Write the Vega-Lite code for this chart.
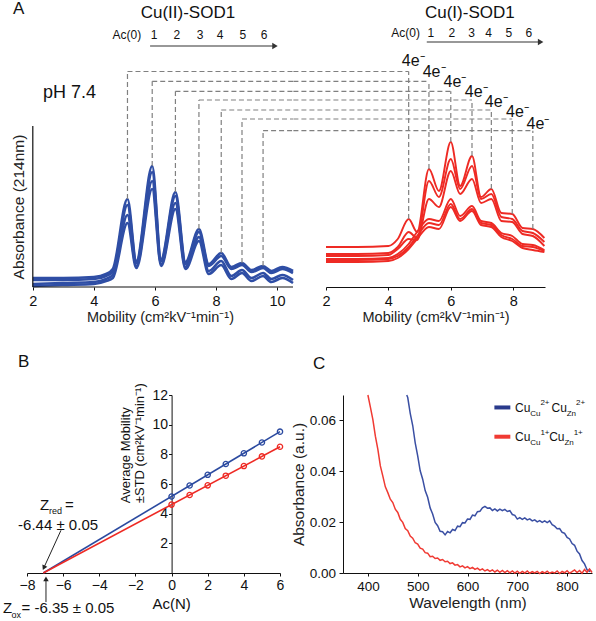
{
"$schema": "https://vega.github.io/schema/vega-lite/v6.json",
"background": "white",
"padding": {"left": 2, "top": 0, "right": 0, "bottom": 0},
"config": {
  "font": "Liberation Sans",
  "view": {"stroke": null},
  "axis": {"labelFont": "Liberation Sans", "titleFont": "Liberation Sans", "labelColor": "#111", "titleColor": "#222", "domainColor": "#111", "tickColor": "#111", "grid": false, "titleFontWeight": "normal", "labelFlush": false, "labelOverlap": false},
  "text": {"font": "Liberation Sans", "color": "#111"}
},
"datasets": {
  "blue": [
    {"t":"b1","x":2,"y":0.09},{"t":"b1","x":3,"y":0.09},{"t":"b1","x":4,"y":0.10},{"t":"b1","x":4.4,"y":0.13},{"t":"b1","x":4.62,"y":0.18},{"t":"b1","x":5.1,"y":0.88},{"t":"b1","x":5.39,"y":0.26},{"t":"b1","x":5.91,"y":1.21},{"t":"b1","x":6.2,"y":0.28},{"t":"b1","x":6.67,"y":0.95},{"t":"b1","x":7,"y":0.25},{"t":"b1","x":7.44,"y":0.58},{"t":"b1","x":7.76,"y":0.23},{"t":"b1","x":8.17,"y":0.34},{"t":"b1","x":8.5,"y":0.20},{"t":"b1","x":8.85,"y":0.24},{"t":"b1","x":9.16,"y":0.17},{"t":"b1","x":9.54,"y":0.21},{"t":"b1","x":9.81,"y":0.16},{"t":"b1","x":10.17,"y":0.20},{"t":"b1","x":10.52,"y":0.16},
    {"t":"b2","x":2,"y":0.07},{"t":"b2","x":3,"y":0.07},{"t":"b2","x":4,"y":0.08},{"t":"b2","x":4.4,"y":0.11},{"t":"b2","x":4.62,"y":0.15},{"t":"b2","x":5.1,"y":0.82},{"t":"b2","x":5.39,"y":0.24},{"t":"b2","x":5.91,"y":1.15},{"t":"b2","x":6.2,"y":0.26},{"t":"b2","x":6.67,"y":0.91},{"t":"b2","x":7,"y":0.23},{"t":"b2","x":7.44,"y":0.55},{"t":"b2","x":7.76,"y":0.21},{"t":"b2","x":8.17,"y":0.31},{"t":"b2","x":8.5,"y":0.18},{"t":"b2","x":8.85,"y":0.22},{"t":"b2","x":9.16,"y":0.15},{"t":"b2","x":9.54,"y":0.19},{"t":"b2","x":9.81,"y":0.14},{"t":"b2","x":10.17,"y":0.18},{"t":"b2","x":10.52,"y":0.14},
    {"t":"b3","x":2,"y":0.03},{"t":"b3","x":3,"y":0.04},{"t":"b3","x":4,"y":0.05},{"t":"b3","x":4.4,"y":0.08},{"t":"b3","x":4.62,"y":0.12},{"t":"b3","x":5.1,"y":0.72},{"t":"b3","x":5.39,"y":0.21},{"t":"b3","x":5.91,"y":1.06},{"t":"b3","x":6.2,"y":0.23},{"t":"b3","x":6.67,"y":0.84},{"t":"b3","x":7,"y":0.20},{"t":"b3","x":7.44,"y":0.50},{"t":"b3","x":7.76,"y":0.16},{"t":"b3","x":8.17,"y":0.26},{"t":"b3","x":8.5,"y":0.11},{"t":"b3","x":8.85,"y":0.17},{"t":"b3","x":9.16,"y":0.09},{"t":"b3","x":9.54,"y":0.14},{"t":"b3","x":9.81,"y":0.08},{"t":"b3","x":10.17,"y":0.12},{"t":"b3","x":10.52,"y":0.07},
    {"t":"b4","x":2,"y":0.01},{"t":"b4","x":3,"y":0.02},{"t":"b4","x":4,"y":0.03},{"t":"b4","x":4.4,"y":0.06},{"t":"b4","x":4.62,"y":0.09},{"t":"b4","x":5.1,"y":0.64},{"t":"b4","x":5.39,"y":0.19},{"t":"b4","x":5.91,"y":0.98},{"t":"b4","x":6.2,"y":0.21},{"t":"b4","x":6.67,"y":0.78},{"t":"b4","x":7,"y":0.18},{"t":"b4","x":7.44,"y":0.46},{"t":"b4","x":7.76,"y":0.13},{"t":"b4","x":8.17,"y":0.22},{"t":"b4","x":8.5,"y":0.08},{"t":"b4","x":8.85,"y":0.14},{"t":"b4","x":9.16,"y":0.06},{"t":"b4","x":9.54,"y":0.11},{"t":"b4","x":9.81,"y":0.05},{"t":"b4","x":10.17,"y":0.09},{"t":"b4","x":10.52,"y":0.04}
  ],
  "red": [
    {"t":"r1","x":2,"y":0.40},{"t":"r1","x":3,"y":0.40},{"t":"r1","x":4,"y":0.41},{"t":"r1","x":4.3,"y":0.48},{"t":"r1","x":4.65,"y":0.68},{"t":"r1","x":4.92,"y":0.55},{"t":"r1","x":5.3,"y":1.18},{"t":"r1","x":5.62,"y":0.96},{"t":"r1","x":6,"y":1.45},{"t":"r1","x":6.3,"y":1.01},{"t":"r1","x":6.68,"y":1.31},{"t":"r1","x":6.97,"y":0.90},{"t":"r1","x":7.3,"y":0.98},{"t":"r1","x":7.62,"y":0.74},{"t":"r1","x":7.97,"y":0.73},{"t":"r1","x":8.3,"y":0.59},{"t":"r1","x":8.63,"y":0.58},{"t":"r1","x":9,"y":0.49},
    {"t":"r2","x":2,"y":0.33},{"t":"r2","x":3,"y":0.33},{"t":"r2","x":4,"y":0.34},{"t":"r2","x":4.3,"y":0.40},{"t":"r2","x":4.65,"y":0.55},{"t":"r2","x":4.92,"y":0.49},{"t":"r2","x":5.3,"y":1.06},{"t":"r2","x":5.62,"y":0.90},{"t":"r2","x":6,"y":1.28},{"t":"r2","x":6.3,"y":0.98},{"t":"r2","x":6.68,"y":1.21},{"t":"r2","x":6.97,"y":0.88},{"t":"r2","x":7.3,"y":0.93},{"t":"r2","x":7.62,"y":0.70},{"t":"r2","x":7.97,"y":0.68},{"t":"r2","x":8.3,"y":0.56},{"t":"r2","x":8.63,"y":0.54},{"t":"r2","x":9,"y":0.45},
    {"t":"r3","x":2,"y":0.31},{"t":"r3","x":3,"y":0.31},{"t":"r3","x":4,"y":0.32},{"t":"r3","x":4.3,"y":0.38},{"t":"r3","x":4.65,"y":0.48},{"t":"r3","x":4.92,"y":0.47},{"t":"r3","x":5.3,"y":0.88},{"t":"r3","x":5.62,"y":0.80},{"t":"r3","x":6,"y":1.16},{"t":"r3","x":6.3,"y":0.93},{"t":"r3","x":6.68,"y":1.08},{"t":"r3","x":6.97,"y":0.84},{"t":"r3","x":7.3,"y":0.88},{"t":"r3","x":7.62,"y":0.66},{"t":"r3","x":7.97,"y":0.65},{"t":"r3","x":8.3,"y":0.53},{"t":"r3","x":8.63,"y":0.51},{"t":"r3","x":9,"y":0.41},
    {"t":"r4","x":2,"y":0.28},{"t":"r4","x":3,"y":0.28},{"t":"r4","x":4,"y":0.29},{"t":"r4","x":4.3,"y":0.33},{"t":"r4","x":4.65,"y":0.43},{"t":"r4","x":4.92,"y":0.55},{"t":"r4","x":5.3,"y":0.68},{"t":"r4","x":5.62,"y":0.66},{"t":"r4","x":6,"y":0.88},{"t":"r4","x":6.3,"y":0.71},{"t":"r4","x":6.68,"y":0.81},{"t":"r4","x":6.97,"y":0.66},{"t":"r4","x":7.3,"y":0.64},{"t":"r4","x":7.62,"y":0.54},{"t":"r4","x":7.97,"y":0.51},{"t":"r4","x":8.3,"y":0.43},{"t":"r4","x":8.63,"y":0.42},{"t":"r4","x":9,"y":0.37},
    {"t":"r5","x":2,"y":0.27},{"t":"r5","x":3,"y":0.27},{"t":"r5","x":4,"y":0.28},{"t":"r5","x":4.3,"y":0.31},{"t":"r5","x":4.65,"y":0.40},{"t":"r5","x":4.92,"y":0.51},{"t":"r5","x":5.3,"y":0.64},{"t":"r5","x":5.62,"y":0.62},{"t":"r5","x":6,"y":0.83},{"t":"r5","x":6.3,"y":0.68},{"t":"r5","x":6.68,"y":0.78},{"t":"r5","x":6.97,"y":0.64},{"t":"r5","x":7.3,"y":0.62},{"t":"r5","x":7.62,"y":0.52},{"t":"r5","x":7.97,"y":0.48},{"t":"r5","x":8.3,"y":0.41},{"t":"r5","x":8.63,"y":0.40},{"t":"r5","x":9,"y":0.36},
    {"t":"r6","x":2,"y":0.25},{"t":"r6","x":3,"y":0.25},{"t":"r6","x":4,"y":0.26},{"t":"r6","x":4.3,"y":0.29},{"t":"r6","x":4.65,"y":0.38},{"t":"r6","x":4.92,"y":0.48},{"t":"r6","x":5.3,"y":0.60},{"t":"r6","x":5.62,"y":0.58},{"t":"r6","x":6,"y":0.80},{"t":"r6","x":6.3,"y":0.66},{"t":"r6","x":6.68,"y":0.76},{"t":"r6","x":6.97,"y":0.62},{"t":"r6","x":7.3,"y":0.60},{"t":"r6","x":7.62,"y":0.50},{"t":"r6","x":7.97,"y":0.46},{"t":"r6","x":8.3,"y":0.39},{"t":"r6","x":8.63,"y":0.37},{"t":"r6","x":9,"y":0.35}
  ],
  "conn": [
    {"xL":5.10,"yL":0.88,"lev":2.155,"xR":4.65,"yR":0.68,"xe":10.52,"xs":0.955},
    {"xL":5.91,"yL":1.21,"lev":2.057,"xR":5.30,"yR":1.18,"xe":10.52,"xs":0.955},
    {"xL":6.67,"yL":0.95,"lev":1.957,"xR":6.00,"yR":1.45,"xe":10.52,"xs":0.955},
    {"xL":7.44,"yL":0.58,"lev":1.870,"xR":6.68,"yR":1.31,"xe":10.52,"xs":0.955},
    {"xL":8.17,"yL":0.34,"lev":1.770,"xR":7.30,"yR":0.98,"xe":10.52,"xs":0.955},
    {"xL":8.85,"yL":0.24,"lev":1.680,"xR":7.97,"yR":0.73,"xe":10.52,"xs":0.955},
    {"xL":9.54,"yL":0.21,"lev":1.563,"xR":8.63,"yR":0.58,"xe":10.52,"xs":0.955}
  ],
  "specB": [
    {"x":478,"y":0.0700},{"x":480,"y":0.0690},{"x":485,"y":0.0628},{"x":490,"y":0.0580},{"x":495,"y":0.0512},{"x":500,"y":0.0461},{"x":505,"y":0.0402},{"x":510,"y":0.0369},{"x":515,"y":0.0324},{"x":520,"y":0.0298},{"x":525,"y":0.0256},{"x":530,"y":0.0232},{"x":535,"y":0.0199},{"x":540,"y":0.0186},{"x":545,"y":0.0164},{"x":550,"y":0.0162},{"x":555,"y":0.0150},{"x":560,"y":0.0163},{"x":565,"y":0.0158},{"x":570,"y":0.0171},{"x":575,"y":0.0167},{"x":580,"y":0.0184},{"x":585,"y":0.0182},{"x":590,"y":0.0198},{"x":595,"y":0.0197},{"x":600,"y":0.0212},{"x":605,"y":0.0211},{"x":610,"y":0.0228},{"x":615,"y":0.0225},{"x":620,"y":0.0241},{"x":625,"y":0.0243},{"x":630,"y":0.0256},{"x":635,"y":0.0262},{"x":640,"y":0.0255},{"x":645,"y":0.0256},{"x":650,"y":0.0246},{"x":655,"y":0.0252},{"x":660,"y":0.0244},{"x":665,"y":0.0251},{"x":670,"y":0.0245},{"x":675,"y":0.0250},{"x":680,"y":0.0242},{"x":685,"y":0.0245},{"x":690,"y":0.0230},{"x":695,"y":0.0227},{"x":700,"y":0.0212},{"x":705,"y":0.0218},{"x":710,"y":0.0211},{"x":715,"y":0.0217},{"x":720,"y":0.0209},{"x":725,"y":0.0213},{"x":730,"y":0.0205},{"x":735,"y":0.0209},{"x":740,"y":0.0201},{"x":745,"y":0.0206},{"x":750,"y":0.0199},{"x":755,"y":0.0205},{"x":760,"y":0.0198},{"x":765,"y":0.0205},{"x":770,"y":0.0190},{"x":775,"y":0.0184},{"x":780,"y":0.0174},{"x":785,"y":0.0175},{"x":790,"y":0.0160},{"x":795,"y":0.0156},{"x":800,"y":0.0140},{"x":805,"y":0.0134},{"x":810,"y":0.0116},{"x":815,"y":0.0109},{"x":820,"y":0.0086},{"x":825,"y":0.0075},{"x":830,"y":0.0049},{"x":835,"y":0.0036},{"x":840,"y":0.0013},{"x":845,"y":0.0007},{"x":848,"y":0.0012}
  ],
  "specR": [
    {"x":400,"y":0.0700},{"x":405,"y":0.0652},{"x":410,"y":0.0603},{"x":415,"y":0.0538},{"x":420,"y":0.0486},{"x":425,"y":0.0421},{"x":430,"y":0.0381},{"x":435,"y":0.0339},{"x":440,"y":0.0316},{"x":445,"y":0.0290},{"x":450,"y":0.0277},{"x":455,"y":0.0251},{"x":460,"y":0.0238},{"x":465,"y":0.0211},{"x":470,"y":0.0199},{"x":475,"y":0.0175},{"x":480,"y":0.0166},{"x":485,"y":0.0145},{"x":490,"y":0.0137},{"x":495,"y":0.0119},{"x":500,"y":0.0114},{"x":505,"y":0.0098},{"x":510,"y":0.0094},{"x":515,"y":0.0080},{"x":520,"y":0.0078},{"x":525,"y":0.0064},{"x":530,"y":0.0066},{"x":535,"y":0.0057},{"x":540,"y":0.0059},{"x":545,"y":0.0050},{"x":550,"y":0.0053},{"x":555,"y":0.0044},{"x":560,"y":0.0046},{"x":565,"y":0.0037},{"x":570,"y":0.0040},{"x":575,"y":0.0031},{"x":580,"y":0.0033},{"x":585,"y":0.0024},{"x":590,"y":0.0028},{"x":595,"y":0.0020},{"x":600,"y":0.0025},{"x":605,"y":0.0017},{"x":610,"y":0.0022},{"x":615,"y":0.0014},{"x":620,"y":0.0019},{"x":625,"y":0.0011},{"x":630,"y":0.0016},{"x":635,"y":0.0008},{"x":640,"y":0.0013},{"x":645,"y":0.0006},{"x":650,"y":0.0012},{"x":655,"y":0.0004},{"x":660,"y":0.0011},{"x":665,"y":0.0003},{"x":670,"y":0.0010},{"x":675,"y":0.0002},{"x":680,"y":0.0009},{"x":685,"y":0.0001},{"x":690,"y":0.0008},{"x":695,"y":0.0000},{"x":700,"y":0.0007},{"x":705,"y":-0.0001},{"x":710,"y":0.0006},{"x":715,"y":0.0000},{"x":720,"y":0.0008},{"x":725,"y":-0.0001},{"x":730,"y":0.0005},{"x":735,"y":0.0000},{"x":740,"y":0.0006},{"x":745,"y":-0.0002},{"x":750,"y":0.0005},{"x":755,"y":0.0000},{"x":760,"y":0.0007},{"x":765,"y":-0.0001},{"x":770,"y":0.0004},{"x":775,"y":0.0000},{"x":780,"y":0.0008},{"x":785,"y":-0.0002},{"x":790,"y":0.0006},{"x":795,"y":0.0001},{"x":800,"y":0.0009},{"x":805,"y":-0.0001},{"x":810,"y":0.0005},{"x":815,"y":0.0012},{"x":820,"y":0.0002},{"x":825,"y":0.0010},{"x":830,"y":-0.0001},{"x":835,"y":0.0014},{"x":840,"y":0.0003},{"x":845,"y":0.0016},{"x":850,"y":0.0002}
  ]
},
"spacing": 28,
"vconcat": [
  {
    "spacing": -7,
    "hconcat": [
      {
        "width": 266, "height": 161,
        "layer": [
          {"data": {"name": "blue"}, "mark": {"type": "line", "interpolate": "monotone", "strokeWidth": 2.6, "color": "#2f4ea5"},
           "encoding": {
             "x": {"field": "x", "type": "quantitative", "scale": {"domain": [1.81, 10.52], "nice": false, "zero": false},
                   "axis": {"values": [2,4,6,8,10], "tickCount": 20, "format": "d", "domain": false, "tickSize": 3, "labelPadding": 4, "labelFontSize": 14.5, "labelFlush": false, "labelOverlap": false, "title": "Mobility (cm²kV⁻¹min⁻¹)", "titleFontSize": 14.5, "titlePadding": 2.5}},
             "y": {"field": "y", "type": "quantitative", "scale": {"domain": [0, 1.61], "nice": false, "zero": false},
                   "axis": {"labels": false, "ticks": false, "domain": false, "title": "Absorbance (214nm)", "titleFontSize": 15.5, "titlePadding": 0.5}},
             "detail": {"field": "t", "type": "nominal"}
           }},
          {"data": {"values": [{"x": 2, "x2": 10.52, "y": 0}]}, "mark": {"type": "rule", "color": "#111", "strokeWidth": 1.2},
           "encoding": {"x": {"field": "x", "type": "quantitative"}, "x2": {"field": "x2"}, "y": {"field": "y", "type": "quantitative"}}},
          {"data": {"values": [{"x": 2, "y": 0, "y2": 1.61}]}, "mark": {"type": "rule", "color": "#111", "strokeWidth": 1.2},
           "encoding": {"x": {"field": "x", "type": "quantitative"}, "y": {"field": "y", "type": "quantitative"}, "y2": {"field": "y2"}}},
          {"data": {"name": "conn"}, "mark": {"type": "rule", "color": "#808080", "strokeWidth": 1.2, "strokeDash": [5, 3]},
           "encoding": {"x": {"field": "xL", "type": "quantitative"}, "y": {"field": "yL", "type": "quantitative"}, "y2": {"field": "lev"}}},
          {"data": {"name": "conn"}, "mark": {"type": "rule", "color": "#808080", "strokeWidth": 1.2, "strokeDash": [5, 3]},
           "encoding": {"x": {"field": "xL", "type": "quantitative"}, "x2": {"field": "xe"}, "y": {"field": "lev", "type": "quantitative"}}},
          {"data": {"values": [{"label": "A", "x": 1.35, "y": 2.73}]}, "mark": {"type": "text", "fontSize": 17, "align": "left", "baseline": "alphabetic"},
           "encoding": {"x": {"field": "x", "type": "quantitative"}, "y": {"field": "y", "type": "quantitative"}, "text": {"field": "label", "type": "nominal"}}},
          {"data": {"values": [{"label": "Cu(II)-SOD1", "x": 7.08, "y": 2.69}]}, "mark": {"type": "text", "fontSize": 17, "align": "center", "baseline": "alphabetic"},
           "encoding": {"x": {"field": "x", "type": "quantitative"}, "y": {"field": "y", "type": "quantitative"}, "text": {"field": "label", "type": "nominal"}}},
          {"data": {"values": [{"label": "pH 7.4", "x": 2.33, "y": 1.89}]}, "mark": {"type": "text", "fontSize": 18, "align": "left", "baseline": "alphabetic"},
           "encoding": {"x": {"field": "x", "type": "quantitative"}, "y": {"field": "y", "type": "quantitative"}, "text": {"field": "label", "type": "nominal"}}},
          {"data": {"values": [{"label": "Ac(0)", "x": 5.08, "y": 2.48}, {"label": "1", "x": 5.97, "y": 2.48}, {"label": "2", "x": 6.72, "y": 2.48}, {"label": "3", "x": 7.48, "y": 2.48}, {"label": "4", "x": 8.13, "y": 2.48}, {"label": "5", "x": 8.88, "y": 2.48}, {"label": "6", "x": 9.57, "y": 2.48}]},
           "mark": {"type": "text", "fontSize": 12, "align": "center", "baseline": "alphabetic"},
           "encoding": {"x": {"field": "x", "type": "quantitative"}, "y": {"field": "y", "type": "quantitative"}, "text": {"field": "label", "type": "nominal"}}},
          {"data": {"values": [{"x": 5.84, "x2": 9.9, "y": 2.41}]}, "mark": {"type": "rule", "color": "#333", "strokeWidth": 1.1},
           "encoding": {"x": {"field": "x", "type": "quantitative"}, "x2": {"field": "x2"}, "y": {"field": "y", "type": "quantitative"}}},
          {"data": {"values": [{"x": 9.93, "y": 2.41}]}, "mark": {"type": "point", "shape": "triangle-right", "filled": true, "size": 40, "color": "#333", "opacity": 1},
           "encoding": {"x": {"field": "x", "type": "quantitative"}, "y": {"field": "y", "type": "quantitative"}}}
        ]
      },
      {
        "width": 219, "height": 161,
        "layer": [
          {"data": {"name": "red"}, "mark": {"type": "line", "interpolate": "monotone", "strokeWidth": 1.9, "color": "#ee2a24"},
           "encoding": {
             "x": {"field": "x", "type": "quantitative", "scale": {"domain": [2, 9.02], "nice": false, "zero": false},
                   "axis": {"values": [2,4,6,8], "tickCount": 20, "format": "d", "domain": true, "domainWidth": 1.2, "tickSize": 3, "labelPadding": 4, "labelFontSize": 14.5, "labelFlush": false, "labelOverlap": false, "title": "Mobility (cm²kV⁻¹min⁻¹)", "titleFontSize": 14.5, "titlePadding": 2.5}},
             "y": {"field": "y", "type": "quantitative", "scale": {"domain": [0, 1.61], "nice": false, "zero": false}, "axis": null},
             "detail": {"field": "t", "type": "nominal"}
           }},
          {"data": {"name": "conn"}, "mark": {"type": "rule", "color": "#808080", "strokeWidth": 1.2, "strokeDash": [5, 3]},
           "encoding": {"x": {"field": "xR", "type": "quantitative"}, "y": {"field": "yR", "type": "quantitative"}, "y2": {"field": "lev"}}},
          {"data": {"name": "conn"}, "mark": {"type": "rule", "color": "#808080", "strokeWidth": 1.2, "strokeDash": [5, 3]},
           "encoding": {"x": {"field": "xs", "type": "quantitative"}, "x2": {"field": "xR"}, "y": {"field": "lev", "type": "quantitative"}}},
          {"data": {"values": [{"label": "Cu(I)-SOD1", "x": 6.61, "y": 2.69}]}, "mark": {"type": "text", "fontSize": 17, "align": "center", "baseline": "alphabetic"},
           "encoding": {"x": {"field": "x", "type": "quantitative"}, "y": {"field": "y", "type": "quantitative"}, "text": {"field": "label", "type": "nominal"}}},
          {"data": {"values": [{"label": "Ac(0)", "x": 4.55, "y": 2.50}, {"label": "1", "x": 5.36, "y": 2.50}, {"label": "2", "x": 6.03, "y": 2.50}, {"label": "3", "x": 6.67, "y": 2.50}, {"label": "4", "x": 7.21, "y": 2.50}, {"label": "5", "x": 7.86, "y": 2.50}, {"label": "6", "x": 8.5, "y": 2.50}]},
           "mark": {"type": "text", "fontSize": 12, "align": "center", "baseline": "alphabetic"},
           "encoding": {"x": {"field": "x", "type": "quantitative"}, "y": {"field": "y", "type": "quantitative"}, "text": {"field": "label", "type": "nominal"}}},
          {"data": {"values": [{"x": 5.23, "x2": 8.85, "y": 2.45}]}, "mark": {"type": "rule", "color": "#333", "strokeWidth": 1.1},
           "encoding": {"x": {"field": "x", "type": "quantitative"}, "x2": {"field": "x2"}, "y": {"field": "y", "type": "quantitative"}}},
          {"data": {"values": [{"x": 8.88, "y": 2.45}]}, "mark": {"type": "point", "shape": "triangle-right", "filled": true, "size": 40, "color": "#333", "opacity": 1},
           "encoding": {"x": {"field": "x", "type": "quantitative"}, "y": {"field": "y", "type": "quantitative"}}},
          {"data": {"values": [{"label": "4e⁻", "x": 4.43, "y": 2.213}, {"label": "4e⁻", "x": 5.10, "y": 2.097}, {"label": "4e⁻", "x": 5.77, "y": 1.997}, {"label": "4e⁻", "x": 6.45, "y": 1.897}, {"label": "4e⁻", "x": 7.09, "y": 1.797}, {"label": "4e⁻", "x": 7.77, "y": 1.697}, {"label": "4e⁻", "x": 8.43, "y": 1.58}]},
           "mark": {"type": "text", "fontSize": 16, "align": "left", "baseline": "alphabetic"},
           "encoding": {"x": {"field": "x", "type": "quantitative"}, "y": {"field": "y", "type": "quantitative"}, "text": {"field": "label", "type": "nominal"}}}
        ]
      }
    ]
  },
  {
    "spacing": 5,
    "hconcat": [
      {
        "width": 253, "height": 178,
        "layer": [
          {"data": {"values": [{"x": -7.1, "y": 0}, {"x": 6, "y": 9.53}]}, "mark": {"type": "line", "strokeWidth": 1.6, "color": "#2b4aa0"},
           "encoding": {
             "x": {"field": "x", "type": "quantitative", "scale": {"domain": [-8, 6], "nice": false, "zero": false},
                   "axis": {"values": [-8,-6,-4,-2,0,2,4,6], "tickCount": 20, "format": "d", "tickSize": 3, "labelPadding": 2, "labelFontSize": 14, "labelFlush": false, "labelOverlap": false, "title": null}},
             "y": {"field": "y", "type": "quantitative", "scale": {"domain": [0, 12], "nice": false, "zero": false},
                   "axis": {"values": [2,4,6,8,10,12], "tickCount": 20, "format": "d", "offset": -144.6, "tickSize": 3, "labelPadding": 1, "labelFontSize": 14, "labelFlush": false, "labelOverlap": false, "title": null}}
           }},
          {"data": {"values": [{"x": -7.1, "y": 0}, {"x": 6, "y": 8.51}]}, "mark": {"type": "line", "strokeWidth": 1.6, "color": "#ee2a24"},
           "encoding": {"x": {"field": "x", "type": "quantitative"}, "y": {"field": "y", "type": "quantitative"}}},
          {"data": {"values": [{"x":0,"y":5.16},{"x":1,"y":5.9},{"x":2,"y":6.62},{"x":3,"y":7.35},{"x":4,"y":8.07},{"x":5,"y":8.8},{"x":6,"y":9.53}]},
           "mark": {"type": "point", "filled": false, "size": 28, "strokeWidth": 1.3, "color": "#2b4aa0", "opacity": 1},
           "encoding": {"x": {"field": "x", "type": "quantitative"}, "y": {"field": "y", "type": "quantitative"}}},
          {"data": {"values": [{"x":0,"y":4.61},{"x":1,"y":5.26},{"x":2,"y":5.91},{"x":3,"y":6.56},{"x":4,"y":7.21},{"x":5,"y":7.86},{"x":6,"y":8.51}]},
           "mark": {"type": "point", "filled": false, "size": 28, "strokeWidth": 1.3, "color": "#ee2a24", "opacity": 1},
           "encoding": {"x": {"field": "x", "type": "quantitative"}, "y": {"field": "y", "type": "quantitative"}}},
          {"data": {"values": [{"x": -6.12, "y": 2.88, "x2": -7.05, "y2": 0.40}, {"x": -6.95, "y": -1.96, "x2": -6.95, "y2": -0.40}]},
           "mark": {"type": "rule", "color": "#222", "strokeWidth": 1},
           "encoding": {"x": {"field": "x", "type": "quantitative"}, "y": {"field": "y", "type": "quantitative"}, "x2": {"field": "x2"}, "y2": {"field": "y2"}}},
          {"data": {"values": [{"x": -7.05, "y": 0.40}]}, "mark": {"type": "point", "shape": "triangle", "angle": 205, "filled": true, "size": 30, "color": "#222", "opacity": 1},
           "encoding": {"x": {"field": "x", "type": "quantitative"}, "y": {"field": "y", "type": "quantitative"}}},
          {"data": {"values": [{"x": -6.95, "y": -0.40}]}, "mark": {"type": "point", "shape": "triangle-up", "filled": true, "size": 30, "color": "#222", "opacity": 1},
           "encoding": {"x": {"field": "x", "type": "quantitative"}, "y": {"field": "y", "type": "quantitative"}}},
          {"data": {"values": [{"label": "Z", "x": -7.28, "y": 4.24}, {"label": "=", "x": -5.9, "y": 4.24}, {"label": "Z", "x": -9.33, "y": -2.72}, {"label": "= -6.35 ± 0.05", "x": -8.3, "y": -2.72}]},
           "mark": {"type": "text", "fontSize": 15, "align": "left", "baseline": "alphabetic"},
           "encoding": {"x": {"field": "x", "type": "quantitative"}, "y": {"field": "y", "type": "quantitative"}, "text": {"field": "label", "type": "nominal"}}},
          {"data": {"values": [{"label": "red", "x": -6.78, "y": 4.0}, {"label": "ox", "x": -8.86, "y": -3.06}]},
           "mark": {"type": "text", "fontSize": 9, "align": "left", "baseline": "alphabetic"},
           "encoding": {"x": {"field": "x", "type": "quantitative"}, "y": {"field": "y", "type": "quantitative"}, "text": {"field": "label", "type": "nominal"}}},
          {"data": {"values": [{"label": "-6.44 ± 0.05", "x": -6.28, "y": 2.9}]},
           "mark": {"type": "text", "fontSize": 15, "align": "center", "baseline": "alphabetic"},
           "encoding": {"x": {"field": "x", "type": "quantitative"}, "y": {"field": "y", "type": "quantitative"}, "text": {"field": "label", "type": "nominal"}}},
          {"data": {"values": [{"label": "B", "x": -8.5, "y": 13.9}]},
           "mark": {"type": "text", "fontSize": 17, "align": "left", "baseline": "alphabetic"},
           "encoding": {"x": {"field": "x", "type": "quantitative"}, "y": {"field": "y", "type": "quantitative"}, "text": {"field": "label", "type": "nominal"}}},
          {"data": {"values": [{"label": "Average Mobility|±STD (cm²kV⁻¹min⁻¹)", "x": -2.5, "y": 4.71}]},
           "mark": {"type": "text", "fontSize": 13, "angle": 270, "align": "left", "baseline": "middle", "lineHeight": 13.5, "lineBreak": "|"},
           "encoding": {"x": {"field": "x", "type": "quantitative"}, "y": {"field": "y", "type": "quantitative"}, "text": {"field": "label", "type": "nominal"}}},
          {"data": {"values": [{"label": "Ac(N)", "x": 0.0, "y": -2.07}]},
           "mark": {"type": "text", "fontSize": 15, "align": "center", "baseline": "middle"},
           "encoding": {"x": {"field": "x", "type": "quantitative"}, "y": {"field": "y", "type": "quantitative"}, "text": {"field": "label", "type": "nominal"}}}
        ]
      },
      {
        "width": 249, "height": 178,
        "layer": [
          {"data": {"name": "specB"}, "mark": {"type": "line", "strokeWidth": 1.5, "color": "#3a4fa3"},
           "encoding": {
             "x": {"field": "x", "type": "quantitative", "scale": {"domain": [350, 850], "nice": false, "zero": false},
                   "axis": {"values": [400,500,600,700,800], "tickCount": 20, "format": "d", "tickSize": 3, "labelPadding": 3.5, "labelFontSize": 13.5, "labelFlush": false, "labelOverlap": false, "title": "Wavelength (nm)", "titleFontSize": 15.5, "titlePadding": 2}},
             "y": {"field": "y", "type": "quantitative", "scale": {"domain": [0, 0.07], "nice": false, "zero": false},
                   "axis": {"values": [0, 0.02, 0.04, 0.06], "tickCount": 20, "format": ".2f", "tickSize": 4, "labelPadding": 3.5, "labelFontSize": 13.5, "labelOverlap": false, "title": "Absorbance (a.u.)", "titleFontSize": 15.5, "titlePadding": 2.5}}
           }},
          {"data": {"name": "specR"}, "mark": {"type": "line", "strokeWidth": 1.5, "color": "#f03a33"},
           "encoding": {"x": {"field": "x", "type": "quantitative"}, "y": {"field": "y", "type": "quantitative"}}},
          {"data": {"values": [{"x": 654, "x2": 686, "y": 0.0651}]}, "mark": {"type": "rule", "strokeWidth": 4, "color": "#2a3a8c"},
           "encoding": {"x": {"field": "x", "type": "quantitative"}, "x2": {"field": "x2"}, "y": {"field": "y", "type": "quantitative"}}},
          {"data": {"values": [{"x": 654, "x2": 686, "y": 0.0536}]}, "mark": {"type": "rule", "strokeWidth": 4, "color": "#f03a33"},
           "encoding": {"x": {"field": "x", "type": "quantitative"}, "x2": {"field": "x2"}, "y": {"field": "y", "type": "quantitative"}}},
          {"data": {"values": [{"label": "Cu", "x": 695.4, "y": 0.0632}, {"label": "Cu", "x": 768.6, "y": 0.0632}, {"label": "Cu", "x": 695.4, "y": 0.0518}, {"label": "Cu", "x": 764, "y": 0.0518}]},
           "mark": {"type": "text", "fontSize": 12, "align": "left", "baseline": "alphabetic"},
           "encoding": {"x": {"field": "x", "type": "quantitative"}, "y": {"field": "y", "type": "quantitative"}, "text": {"field": "label", "type": "nominal"}}},
          {"data": {"values": [{"label": "Cu", "x": 726, "y": 0.0617}, {"label": "2+", "x": 746.4, "y": 0.0659}, {"label": "Zn", "x": 799.2, "y": 0.0617}, {"label": "2+", "x": 817.8, "y": 0.0659}, {"label": "Cu", "x": 726, "y": 0.0502}, {"label": "1+", "x": 746.4, "y": 0.0544}, {"label": "Zn", "x": 794.6, "y": 0.0502}, {"label": "1+", "x": 813.2, "y": 0.0544}]},
           "mark": {"type": "text", "fontSize": 8, "align": "left", "baseline": "alphabetic"},
           "encoding": {"x": {"field": "x", "type": "quantitative"}, "y": {"field": "y", "type": "quantitative"}, "text": {"field": "label", "type": "nominal"}}},
          {"data": {"values": [{"label": "C", "x": 290, "y": 0.0803}]},
           "mark": {"type": "text", "fontSize": 17, "align": "left", "baseline": "alphabetic"},
           "encoding": {"x": {"field": "x", "type": "quantitative"}, "y": {"field": "y", "type": "quantitative"}, "text": {"field": "label", "type": "nominal"}}}
        ]
      }
    ]
  }
]
}
